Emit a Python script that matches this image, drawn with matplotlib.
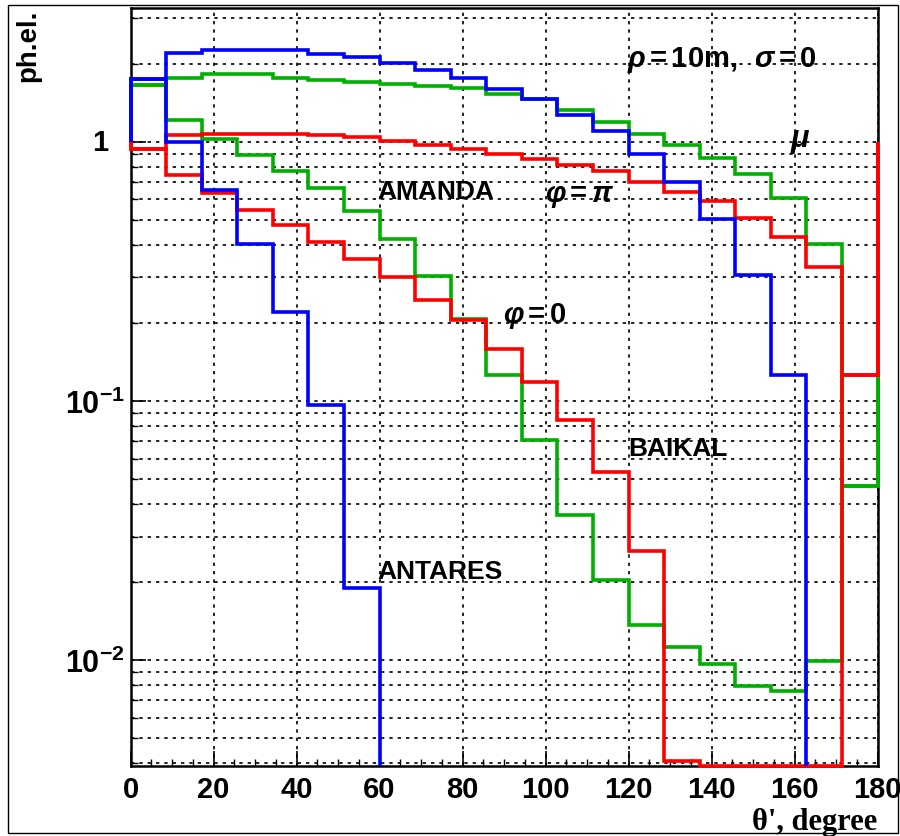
import numpy as np
import matplotlib
matplotlib.use('Agg')
import matplotlib.pyplot as plt
from matplotlib.patches import Rectangle
from matplotlib.ticker import FixedLocator, FuncFormatter
import matplotlib.transforms as mtrans

plt.rcParams['font.family'] = ['Liberation Sans', 'DejaVu Sans']
plt.rcParams['font.weight'] = 'bold'
plt.rcParams['mathtext.fontset'] = 'custom'
plt.rcParams['mathtext.rm'] = 'Liberation Sans:bold'
plt.rcParams['mathtext.bf'] = 'Liberation Sans:bold'
plt.rcParams['mathtext.it'] = 'Liberation Sans:bold:italic'

# 21 bins over 0..180 deg; first and last bins shared by phi=0 and phi=pi
N_BINS = 21
antares_pi = [1.745, 2.21, 2.27, 2.27, 2.27, 2.19, 2.12, 2.01, 1.90, 1.77, 1.60,
              1.46, 1.27, 1.10, 0.901, 0.701, 0.506, 0.307, 0.126, 0, 0]
antares_0 = [1.745, 1.0, 0.654, 0.405, 0.221, 0.0962, 0.019, 0, 0, 0, 0,
             0, 0, 0, 0, 0, 0, 0, 0, 0, 0]
amanda_pi = [1.654, 1.77, 1.835, 1.835, 1.77, 1.74, 1.705, 1.675, 1.645, 1.615, 1.537,
             1.46, 1.325, 1.195, 1.077, 0.970, 0.870, 0.754, 0.608, 0.405, 0.047]
amanda_0 = [1.654, 1.21, 1.023, 0.888, 0.770, 0.664, 0.540, 0.421, 0.305, 0.207, 0.1256,
            0.0705, 0.0365, 0.0204, 0.0137, 0.0113, 0.00965, 0.00798, 0.00763, 0.00997, 0.047]
baikal_pi = [0.942, 1.06, 1.077, 1.077, 1.077, 1.06, 1.045, 1.005, 0.970, 0.936, 0.901,
             0.857, 0.812, 0.770, 0.701, 0.641, 0.590, 0.509, 0.428, 0.329, 0.126]
baikal_0 = [0.942, 0.743, 0.636, 0.548, 0.477, 0.411, 0.352, 0.302, 0.2445, 0.205, 0.159,
            0.118, 0.0847, 0.0535, 0.0264, 0.0041, 0.002, 0.002, 0.002, 0.002, 0.126]

YMIN, YMAX = 0.0039, 3.3
BASE = 1.0   # ROOT log-scale histogram baseline
GREEN, RED, BLUE = '#00b000', '#ff0000', '#0000ff'


def outline(edges, vals):
    xs, ys = [edges[0]], [BASE]
    for i, v in enumerate(vals):
        if v <= 0:
            xs.append(edges[i]); ys.append(YMIN)
            break
        v = max(v, YMIN)
        xs += [edges[i], edges[i + 1]]; ys += [v, v]
    else:
        xs.append(edges[-1]); ys.append(BASE)
    return xs, ys


fig = plt.figure(figsize=(9, 8.37), dpi=100)
ax = fig.add_axes([130.5 / 900, 1 - 767.3 / 837, 747 / 900, (767.3 - 8.5) / 837])
edges = np.linspace(0, 180, N_BINS + 1)

for vals, col in [(amanda_pi, GREEN), (amanda_0, GREEN), (baikal_pi, RED), (baikal_0, RED),
                  (antares_pi, BLUE), (antares_0, BLUE)]:
    xs, ys = outline(edges, vals)
    ax.plot(xs, ys, color=col, lw=2.6, solid_joinstyle='miter', solid_capstyle='butt',
            clip_on=False, zorder=3)

ax.set_yscale('log')
ax.set_xlim(0, 180); ax.set_ylim(YMIN, YMAX)
ax.xaxis.set_major_locator(FixedLocator(np.arange(0, 181, 20)))
ax.xaxis.set_minor_locator(FixedLocator(np.arange(0, 181, 5)))
ax.yaxis.set_major_locator(FixedLocator([0.01, 0.1, 1]))
ax.yaxis.set_minor_locator(FixedLocator([m * 10.0 ** e for e in (-3, -2, -1, 0) for m in range(2, 10)]))


def yfmt(v, pos):
    if abs(v - 1) < 1e-9:
        return ''
    return r'$\mathbf{10^{%d}}$' % int(round(np.log10(v)))


ax.yaxis.set_major_formatter(FuncFormatter(yfmt))
ax.yaxis.set_minor_formatter(FuncFormatter(lambda v, p: ''))
ax.tick_params(which='major', direction='in', length=11, width=1.2, labelsize=21, pad=6)
ax.tick_params(axis='y', which='major', pad=4, labelsize=22)
ax.tick_params(which='minor', direction='in', length=5, width=1)
for lab in ax.get_xticklabels():
    lab.set_fontweight('bold')
ax.xaxis.grid(True, which='major', ls=(0, (2, 3)), color='k', lw=1.2)
ax.yaxis.grid(True, which='both', ls=(0, (2, 3)), color='k', lw=1.2)
for s in ax.spines.values():
    s.set_linewidth(1.8)

tr = mtrans.blended_transform_factory(ax.transAxes, ax.transData)
ax.text(-0.03, 1.0, '1', transform=tr, ha='right', va='center', fontsize=21, fontweight='bold')

lab_kw = dict(fontsize=19, fontweight='bold', ha='left', va='center', zorder=4)
ax.text(119.6, 2.08, r'$\rho\,$=$\,$10m,$\ \ \sigma\,$=$\,$0', fontsize=21, fontweight='bold',
        ha='left', va='center', zorder=4)
ax.text(158.8, 1.02, r'$\mu$', fontsize=22, fontweight='bold', ha='left', va='center', zorder=4)
ax.text(59.6, 0.648, 'AMANDA', **lab_kw)
ax.text(99.9, 0.626, r'$\varphi\,$=$\,\pi$', fontsize=21, fontweight='bold',
        ha='left', va='center', zorder=4)
ax.text(89.8, 0.215, r'$\varphi\,$=$\,$0', fontsize=21, fontweight='bold',
        ha='left', va='center', zorder=4)
ax.text(119.9, 0.066, 'BAIKAL', **lab_kw)
ax.text(59.6, 0.0221, 'ANTARES', **lab_kw)

fig.text(28 / 900, 1 - 46 / 837, 'ph.el.', rotation=90, ha='center', va='center',
         fontsize=20, fontweight='bold')
fig.text(877 / 900, 1 - 823 / 837, "\u03b8', degree", ha='right', va='center',
         fontsize=22, fontweight='bold', family=['Liberation Serif', 'DejaVu Serif'])

fig.add_artist(Rectangle((8 / 900, 3 / 837), 890 / 900, 828 / 837, transform=fig.transFigure,
                         fill=False, ec='k', lw=1))

fig.savefig('out.png', dpi=100, facecolor='white')
